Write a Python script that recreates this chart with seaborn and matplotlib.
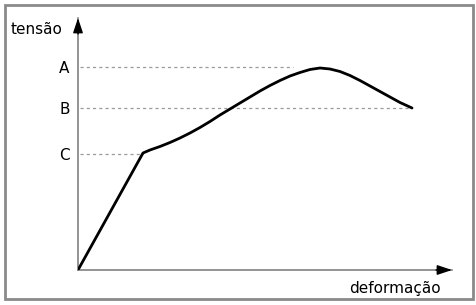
import matplotlib
matplotlib.use("Agg")
import matplotlib.pyplot as plt
from matplotlib.patches import Rectangle
import seaborn as sns
import pandas as pd

# data (arbitrary units)
strain = [0.0, 0.65, 0.72, 0.82, 0.92, 1.02, 1.12, 1.22, 1.32, 1.42, 1.52, 1.62, 1.72,
          1.82, 1.92, 2.02, 2.12, 2.22, 2.32, 2.42, 2.52, 2.62, 2.72, 2.82, 2.92,
          3.02, 3.12, 3.22, 3.34]
stress = [0.0, 1.17, 1.20, 1.235, 1.275, 1.32, 1.37, 1.425, 1.485, 1.55, 1.61, 1.67, 1.73,
          1.79, 1.845, 1.895, 1.94, 1.975, 2.005, 2.02, 2.01, 1.985, 1.945, 1.895, 1.84,
          1.785, 1.73, 1.675, 1.62]
level_labels = ["A", "B", "C"]
level_values = [2.03, 1.62, 1.16]
level_ends = [2.15, 3.34, 0.65]
x_label = "deformação"
y_label = "tensão"

sns.set_style("white")
plt.rcParams["font.family"] = ["DejaVu Sans"]
plt.rcParams["text.color"] = "black"
plt.rcParams["ytick.color"] = "black"

W, H = 477, 305
fig = plt.figure(figsize=(W / 100, H / 100), dpi=100)
ox, oy = 78, 270  # origin pixel
tx, ty = 452, 18  # arrow tips
ax = fig.add_axes([ox / W, (H - oy) / H, (tx - ox) / W, (oy - ty) / H])
ax.set_xlim(0, (tx - ox) / 100)
ax.set_ylim(0, (oy - ty) / 100)

# dashed guide lines
for v, e in zip(level_values, level_ends):
    ax.plot([0.02, e], [v, v], color="#9a9a9a", lw=0.9, dashes=(2.5, 2.5), zorder=1)

df = pd.DataFrame({"strain": strain, "stress": stress})
sns.lineplot(data=df, x="strain", y="stress", sort=False, color="black", lw=2.0,
             ax=ax, zorder=3, solid_joinstyle="round", solid_capstyle="round")

# axes
for s in ["top", "right"]:
    ax.spines[s].set_visible(False)
for s in ["left", "bottom"]:
    ax.spines[s].set_color("#777777")
    ax.spines[s].set_linewidth(1.1)

ax.set_xticks([])
ax.set_yticks(level_values)
ax.set_yticklabels(level_labels, fontsize=11, color="black")
ax.tick_params(axis="y", length=0, pad=6)
ax.set_xlabel("")
ax.set_ylabel("")

# arrow heads
xmax = ax.get_xlim()[1]
ymax = ax.get_ylim()[1]
ax.annotate("", xy=(0, ymax), xytext=(0, ymax - 0.16),
            arrowprops=dict(arrowstyle="-|>,head_length=0.9,head_width=0.3", color="black", lw=1.0,
                            shrinkA=0, shrinkB=0), annotation_clip=False)
ax.annotate("", xy=(xmax, 0), xytext=(xmax - 0.16, 0),
            arrowprops=dict(arrowstyle="-|>,head_length=0.9,head_width=0.3", color="black", lw=1.0,
                            shrinkA=0, shrinkB=0), annotation_clip=False)

fig.text(11 / W, 1 - 30 / H, y_label, fontsize=11, ha="left", va="center", color="black")
fig.text(441 / W, 1 - 288 / H, x_label, fontsize=11, ha="right", va="center", color="black")

# frame
fig.patches.append(Rectangle((5 / W, 1 - 299 / H), 468 / W, 294 / H, transform=fig.transFigure,
                             fill=False, edgecolor="#8a8a8a", lw=2.0))

fig.savefig("out.png", dpi=100)
